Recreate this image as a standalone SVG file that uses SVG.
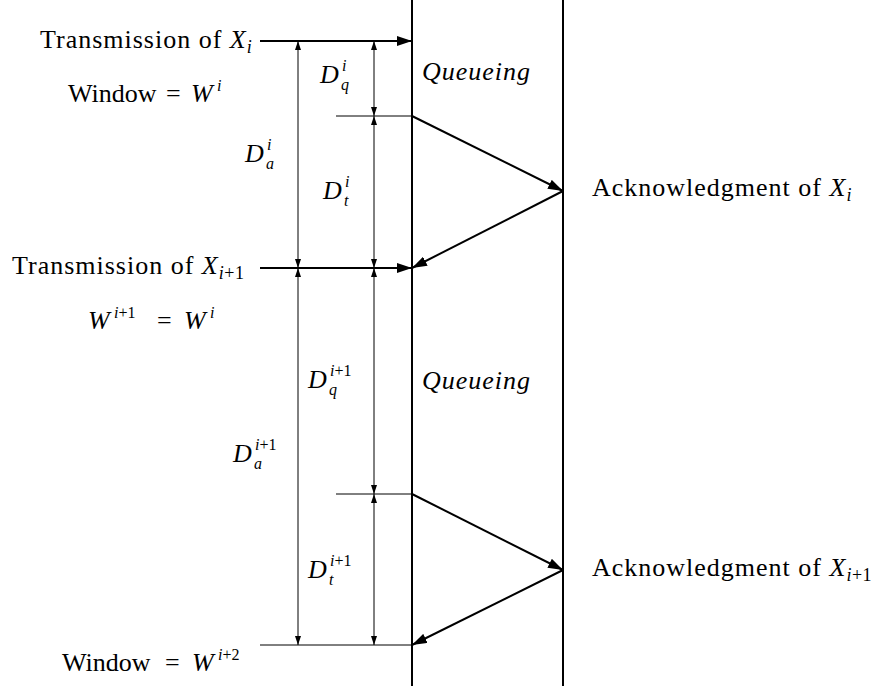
<svg xmlns="http://www.w3.org/2000/svg" width="886" height="686" viewBox="0 0 886 686" font-family="'Liberation Serif','DejaVu Serif','Times New Roman',serif">
<style>
text{font-family:'Liberation Serif','DejaVu Serif','Times New Roman',serif;font-size:26px;fill:#000}
.rm{letter-spacing:1px}
.it{font-style:italic}
.s{font-size:16px;letter-spacing:0}
.x{font-size:18px;letter-spacing:0.5px}
.thick{stroke:#000;stroke-width:2;fill:none}
.thin{stroke:#000;stroke-width:1;fill:none}
</style>
<defs>
<marker id="big" viewBox="0 0 15 10" refX="15" refY="5" markerWidth="15" markerHeight="10" markerUnits="userSpaceOnUse" orient="auto"><path d="M0,0 L15,5 L0,10 z" fill="#000"/></marker>
<marker id="dim" viewBox="0 0 9 6" refX="9" refY="3" markerWidth="9" markerHeight="6" markerUnits="userSpaceOnUse" orient="auto-start-reverse"><path d="M0,0 L9,3 L0,6 z" fill="#000"/></marker>
</defs>
<rect width="886" height="686" fill="#fff"/>
<g id="lifelines">
<line class="thick" x1="412" y1="0" x2="412" y2="686"/>
<line class="thick" x1="563" y1="0" x2="563" y2="686"/>
</g>
<g id="connectors">
<line class="thick" x1="260" y1="41" x2="412" y2="41" marker-end="url(#big)"/>
<line class="thick" x1="260" y1="268" x2="412" y2="268" marker-end="url(#big)"/>
<line class="thin" x1="336" y1="116" x2="412" y2="116"/>
<line class="thin" x1="336" y1="494" x2="412" y2="494"/>
<line class="thin" x1="260" y1="645" x2="412" y2="645"/>
<line class="thick" x1="412" y1="116" x2="563" y2="191" marker-end="url(#big)"/>
<line class="thick" x1="563" y1="191" x2="412" y2="268" marker-end="url(#big)"/>
<line class="thick" x1="412" y1="494" x2="563" y2="570" marker-end="url(#big)"/>
<line class="thick" x1="563" y1="570" x2="412" y2="645" marker-end="url(#big)"/>
<line class="thin" x1="298" y1="41" x2="298" y2="268" marker-start="url(#dim)" marker-end="url(#dim)"/>
<line class="thin" x1="298" y1="268" x2="298" y2="645" marker-start="url(#dim)" marker-end="url(#dim)"/>
<line class="thin" x1="374" y1="41" x2="374" y2="116" marker-start="url(#dim)" marker-end="url(#dim)"/>
<line class="thin" x1="374" y1="116" x2="374" y2="268" marker-start="url(#dim)" marker-end="url(#dim)"/>
<line class="thin" x1="374" y1="268" x2="374" y2="494" marker-start="url(#dim)" marker-end="url(#dim)"/>
<line class="thin" x1="374" y1="494" x2="374" y2="645" marker-start="url(#dim)" marker-end="url(#dim)"/>
</g>
<g id="tx1"><text x="40" y="48" class="rm">Transmission of <tspan class="it">X</tspan><tspan class="it x" dy="5">i</tspan></text></g>
<g id="win1"><text x="68" y="102">Window<tspan x="166">=</tspan><tspan class="it" x="191">W</tspan><tspan class="it s" x="217" y="91">i</tspan></text></g>
<g id="dq1"><text x="320" y="83" class="it">D<tspan class="s" x="342" y="71">i</tspan><tspan class="s" x="341" y="90">q</tspan></text></g>
<g id="q1"><text x="422" y="80" class="it rm">Queueing</text></g>
<g id="da1"><text x="245" y="162" class="it">D<tspan class="s" x="267" y="150">i</tspan><tspan class="s" x="266" y="169">a</tspan></text></g>
<g id="dt1"><text x="323" y="199" class="it">D<tspan class="s" x="345" y="187">i</tspan><tspan class="s" x="344" y="206">t</tspan></text></g>
<g id="ack1"><text x="592" y="196" class="rm">Acknowledgment of <tspan class="it">X</tspan><tspan class="it x" dy="5">i</tspan></text></g>
<g id="tx2"><text x="12" y="274" class="rm">Transmission of <tspan class="it">X</tspan><tspan class="x" dy="5"><tspan class="it">i</tspan>+1</tspan></text></g>
<g id="win2"><text x="88" y="329"><tspan class="it">W</tspan><tspan class="s" x="114" y="318"><tspan class="it">i</tspan>+1</tspan><tspan x="157" y="329">=</tspan><tspan class="it" x="184">W</tspan><tspan class="it s" x="210" y="318">i</tspan></text></g>
<g id="dq2"><text x="308" y="388" class="it">D<tspan class="s" x="330" y="376">i<tspan font-style="normal">+1</tspan></tspan><tspan class="s" x="329" y="395">q</tspan></text></g>
<g id="q2"><text x="422" y="389" class="it rm">Queueing</text></g>
<g id="da2"><text x="233" y="462" class="it">D<tspan class="s" x="255" y="450">i<tspan font-style="normal">+1</tspan></tspan><tspan class="s" x="254" y="469">a</tspan></text></g>
<g id="dt2"><text x="308" y="578" class="it">D<tspan class="s" x="330" y="566">i<tspan font-style="normal">+1</tspan></tspan><tspan class="s" x="329" y="585">t</tspan></text></g>
<g id="ack2"><text x="592" y="576" class="rm">Acknowledgment of <tspan class="it">X</tspan><tspan class="x" dy="5"><tspan class="it">i</tspan>+1</tspan></text></g>
<g id="win3"><text x="62" y="671">Window<tspan x="165">=</tspan><tspan class="it" x="192">W</tspan><tspan class="s" x="218" y="660"><tspan class="it">i</tspan>+2</tspan></text></g>
</svg>
